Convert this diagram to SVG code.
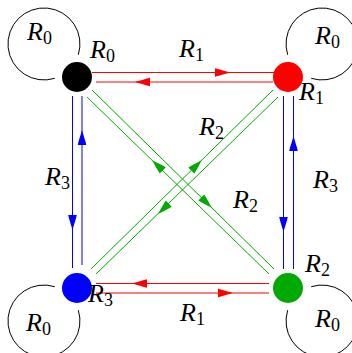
<svg xmlns="http://www.w3.org/2000/svg" xmlns:xlink="http://www.w3.org/1999/xlink" width="352" height="353" viewBox="0 0 352 353">
<style>
.lbl{font-family:"Liberation Serif","DejaVu Serif",serif;font-size:26px;font-style:italic;fill:#000}
.sub{font-style:normal;font-size:18px}
.loop{fill:none;stroke:#000;stroke-width:1}
.ln{fill:none;stroke-width:1}
.r{stroke:#ff0000}.b{stroke:#0000ff}.g{stroke:#00aa00}
</style>
<defs>
<path id="ah" d="M0,0 C-4,-1 -10,-3.2 -15,-4.3 L-15,4.3 C-10,3.2 -4,1 0,0Z"/>
</defs>
<rect width="352" height="353" fill="#fff"/>
<g id="connectors">
  <!-- top red -->
  <line class="ln r" x1="92" y1="72.5" x2="274" y2="72.5"/>
  <line class="ln r" x1="96" y1="82" x2="273" y2="82"/>
  <use xlink:href="#ah" fill="#ff0000" transform="translate(230,72.5)"/>
  <use xlink:href="#ah" fill="#ff0000" transform="translate(135,82) rotate(180)"/>
  <!-- bottom red -->
  <line class="ln r" x1="96" y1="283.5" x2="269" y2="283.5"/>
  <line class="ln r" x1="96" y1="293" x2="269" y2="293"/>
  <use xlink:href="#ah" fill="#ff0000" transform="translate(132,283.5) rotate(180)"/>
  <use xlink:href="#ah" fill="#ff0000" transform="translate(233,293)"/>
  <!-- left blue -->
  <line class="ln b" x1="72.5" y1="96" x2="72.5" y2="268"/>
  <line class="ln b" x1="82" y1="96" x2="82" y2="265"/>
  <use xlink:href="#ah" fill="#0000ff" transform="translate(72.5,230) rotate(90)"/>
  <use xlink:href="#ah" fill="#0000ff" transform="translate(82,130) rotate(-90)"/>
  <!-- right blue -->
  <line class="ln b" x1="283.5" y1="96" x2="283.5" y2="269"/>
  <line class="ln b" x1="293.5" y1="96" x2="293.5" y2="269"/>
  <use xlink:href="#ah" fill="#0000ff" transform="translate(283.5,232) rotate(90)"/>
  <use xlink:href="#ah" fill="#0000ff" transform="translate(293.5,136) rotate(-90)"/>
  <!-- black-green diagonal -->
  <line class="ln g" x1="92" y1="90" x2="274" y2="269"/>
  <line class="ln g" x1="87" y1="97" x2="269" y2="274"/>
  <use xlink:href="#ah" fill="#00aa00" transform="translate(212,208) rotate(44.5)"/>
  <use xlink:href="#ah" fill="#00aa00" transform="translate(152,160) rotate(224.2)"/>
  <!-- red-blue diagonal -->
  <line class="ln g" x1="273" y1="90" x2="91" y2="269"/>
  <line class="ln g" x1="278" y1="97" x2="96" y2="274"/>
  <use xlink:href="#ah" fill="#00aa00" transform="translate(202,160) rotate(-44.5)"/>
  <use xlink:href="#ah" fill="#00aa00" transform="translate(158,214) rotate(135.8)"/>
</g>
<g id="loops">
  <path class="loop" d="M54.8,78.3 A36,36 0 1 1 78.3,54.8"/>
  <path class="loop" d="M287.7,54.8 A36,36 0 1 1 311.2,78.3"/>
  <path class="loop" d="M311.2,286.7 A36,36 0 1 1 287.7,310.2"/>
  <path class="loop" d="M78.3,310.2 A36,36 0 1 1 54.8,286.7"/>
  <text class="lbl" x="27" y="40">R<tspan class="sub" dy="4">0</tspan></text>
  <text class="lbl" x="315" y="44">R<tspan class="sub" dy="4">0</tspan></text>
  <text class="lbl" x="315" y="327">R<tspan class="sub" dy="4">0</tspan></text>
  <text class="lbl" x="26" y="331">R<tspan class="sub" dy="4">0</tspan></text>
</g>
<g id="n0">
  <circle cx="77" cy="77" r="15" fill="#000"/>
  <text class="lbl" x="90" y="58">R<tspan class="sub" dy="4">0</tspan></text>
</g>
<g id="n1">
  <circle cx="288" cy="77" r="15" fill="#ff0000"/>
  <text class="lbl" x="299" y="100">R<tspan class="sub" dy="4">1</tspan></text>
</g>
<g id="n2">
  <circle cx="288" cy="288" r="15" fill="#00aa00"/>
  <text class="lbl" x="305" y="272">R<tspan class="sub" dy="4">2</tspan></text>
</g>
<g id="n3">
  <circle cx="77" cy="288" r="15" fill="#0000ff"/>
  <text class="lbl" x="88" y="302">R<tspan class="sub" dy="4">3</tspan></text>
</g>
<g id="edge-labels">
  <text class="lbl" x="179" y="57">R<tspan class="sub" dy="4">1</tspan></text>
  <text class="lbl" x="180" y="321">R<tspan class="sub" dy="4">1</tspan></text>
  <text class="lbl" x="45" y="185">R<tspan class="sub" dy="4">3</tspan></text>
  <text class="lbl" x="313" y="188">R<tspan class="sub" dy="4">3</tspan></text>
  <text class="lbl" x="199" y="135">R<tspan class="sub" dy="4">2</tspan></text>
  <text class="lbl" x="233" y="208">R<tspan class="sub" dy="4">2</tspan></text>
</g>
</svg>
